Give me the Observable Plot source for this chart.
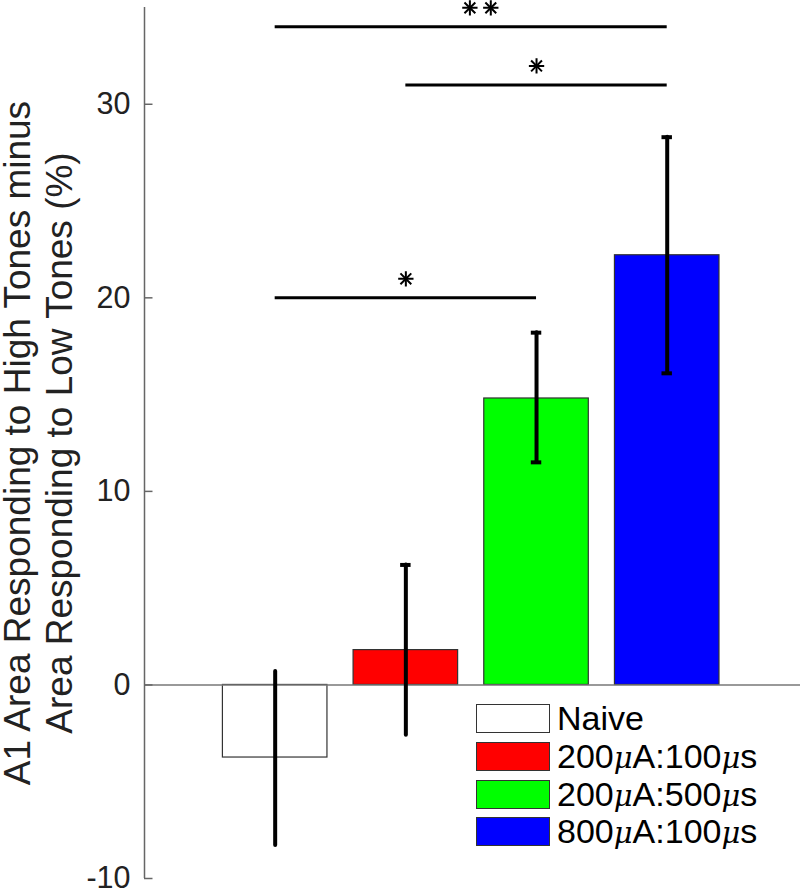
<!DOCTYPE html>
<html>
<head>
<meta charset="utf-8">
<script src="https://cdn.jsdelivr.net/npm/d3@7"></script>
<script src="https://cdn.jsdelivr.net/npm/@observablehq/plot@0.6"></script>
<style>
  body { margin: 0; background: #fff; font-family: "Liberation Sans", Arial, sans-serif; }
  #wrap { position: relative; width: 800px; height: 893px; }
  #legend { position: absolute; left: 476px; top: 700px; font-size: 34px; color: #000; }
  .row { display: flex; align-items: center; height: 37.7px; }
  .sw { width: 72px; height: 27px; border: 1.5px solid #333; margin-right: 7px; box-sizing: content-box; }
  .mu { font-style: italic; font-family: "DejaVu Serif", serif; font-size: 29px; }
</style>
</head>
<body>
<div id="wrap"></div>
<script>
const groups = ["Naive", "200µA:100µs", "200µA:500µs", "800µA:100µs"];
const colors = ["#ffffff", "#ff0000", "#00ff00", "#0000ff"];
const means = [-3.75, 1.8, 14.8, 22.2];
const errLow = [-8.3, -2.6, 11.5, 16.1];
const errHigh = [0.7, 6.2, 18.2, 28.3];
const capLow = [false, false, true, true];
const capHigh = [false, true, true, true];
const sigFrom = [1, 2, 1];
const sigTo = [4, 4, 3];
const sigY = [34, 31, 20];
const sigStars = [2, 1, 1];
const yTicks = [-10, 0, 10, 20, 30];
const yLabel1 = "A1 Area Responding to High Tones minus";
const yLabel2 = "Area Responding to Low Tones (%)";

const bars = groups.map((g, i) => ({group: g, pos: i + 1, value: means[i], lo: errLow[i], hi: errHigh[i]}));
const caps = [];
bars.forEach((b, i) => {
  if (capLow[i]) caps.push({pos: b.pos, y: b.lo});
  if (capHigh[i]) caps.push({pos: b.pos, y: b.hi});
});
const sig = sigFrom.map((f, i) => ({x1: f, x2: sigTo[i], y: sigY[i], n: sigStars[i]}));
const stars = [];
sig.forEach(s => {
  const mid = (s.x1 + s.x2) / 2;
  for (let k = 0; k < s.n; k++) {
    stars.push({x: mid + (k - (s.n - 1) / 2) * 0.16 + (s.n > 1 ? 0.07 : 0), y: s.y});
  }
});

const chart = Plot.plot({
  width: 800,
  height: 893,
  marginLeft: 144,
  marginRight: 0,
  marginTop: 7,
  marginBottom: 15,
  style: {fontFamily: "Liberation Sans, Arial, sans-serif", background: "#fff"},
  x: {domain: [0, 5.02], axis: null},
  y: {domain: [-10, 35], axis: null},
  color: {domain: groups, range: colors},
  marks: [
    Plot.rectY(bars, {x1: d => d.pos - 0.4, x2: d => d.pos + 0.4, y: "value", fill: "group", stroke: "#333", strokeWidth: 1.2}),
    Plot.ruleY([0], {x1: 0, x2: 5.02, stroke: "#777", strokeWidth: 1.5}),
    Plot.ruleX([0], {y1: -10, y2: 35, stroke: "#666", strokeWidth: 1.5}),
    Plot.ruleY(yTicks, {x1: 0, x2: 0.065, stroke: "#666", strokeWidth: 1.5}),
    Plot.text(yTicks, {x: 0, y: d => d, text: d => String(d), textAnchor: "end", dx: -14, fontSize: 30.5, fill: "#222"}),
    Plot.ruleX(bars, {x: "pos", y1: "lo", y2: "hi", stroke: "#000", strokeWidth: 4, strokeLinecap: "round"}),
    Plot.ruleY(caps, {x1: d => d.pos - 0.04, x2: d => d.pos + 0.04, y: "y", stroke: "#000", strokeWidth: 4}),
    Plot.ruleY(sig, {x1: "x1", x2: "x2", y: "y", stroke: "#000", strokeWidth: 3}),
    Plot.dot(stars, {x: "x", y: "y", dy: -19, symbol: "plus", r: 5, stroke: "#000", strokeWidth: 2}),
    Plot.dot(stars, {x: "x", y: "y", dy: -19, symbol: "times", r: 5, stroke: "#000", strokeWidth: 2}),
    Plot.text([yLabel1], {frameAnchor: "left", textAnchor: "middle", rotate: -90, dx: -126, fontSize: 37, fill: "#222"}),
    Plot.text([yLabel2], {frameAnchor: "left", textAnchor: "middle", rotate: -90, dx: -84, fontSize: 37, fill: "#222"})
  ]
});

const wrap = document.getElementById("wrap");
wrap.appendChild(chart);

const legend = document.createElement("div");
legend.id = "legend";
groups.forEach((g, i) => {
  const row = document.createElement("div");
  row.className = "row";
  const sw = document.createElement("div");
  sw.className = "sw";
  sw.style.background = colors[i];
  row.appendChild(sw);
  const label = document.createElement("span");
  g.split("µ").forEach((part, j) => {
    if (j > 0) {
      const mu = document.createElement("span");
      mu.className = "mu";
      mu.textContent = "μ";
      label.appendChild(mu);
    }
    label.appendChild(document.createTextNode(part));
  });
  row.appendChild(label);
  legend.appendChild(row);
});
wrap.appendChild(legend);
</script>
</body>
</html>
